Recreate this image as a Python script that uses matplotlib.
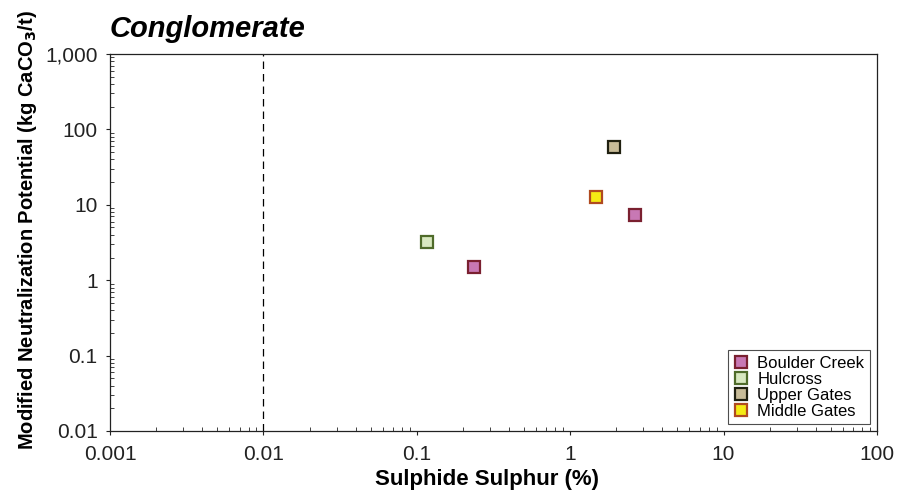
import matplotlib
matplotlib.use("Agg")
import matplotlib.pyplot as plt
from matplotlib.ticker import FixedLocator, LogLocator, NullFormatter

plt.rcParams["font.family"] = ["Liberation Sans", "DejaVu Sans"]

# data
series = ["Boulder Creek", "Hulcross", "Upper Gates", "Middle Gates"]
sulphide_s = {
    "Boulder Creek": [0.236, 2.64],
    "Hulcross": [0.117],
    "Upper Gates": [1.93],
    "Middle Gates": [1.47],
}
mod_np = {
    "Boulder Creek": [1.5, 7.3],
    "Hulcross": [3.2],
    "Upper Gates": [58.0],
    "Middle Gates": [12.7],
}
face_colors = {
    "Boulder Creek": "#C878B4",
    "Hulcross": "#D8E8C0",
    "Upper Gates": "#C8BC98",
    "Middle Gates": "#F5EB14",
}
edge_colors = {
    "Boulder Creek": "#7A2030",
    "Hulcross": "#4F6B2A",
    "Upper Gates": "#202010",
    "Middle Gates": "#B04A20",
}
x_ticks = [0.001, 0.01, 0.1, 1, 10, 100]
x_labels = ["0.001", "0.01", "0.1", "1", "10", "100"]
y_ticks = [0.01, 0.1, 1, 10, 100, 1000]
y_labels = ["0.01", "0.1", "1", "10", "100", "1,000"]
detection_limit = 0.01

fig = plt.figure(figsize=(8.98, 5.0), dpi=100)
ax = fig.add_axes([0.1225, 0.138, 0.854, 0.754])

for name in series:
    ax.plot(sulphide_s[name], mod_np[name], linestyle="none", marker="s",
            markersize=9, markerfacecolor=face_colors[name],
            markeredgecolor=edge_colors[name], markeredgewidth=1.6,
            label=name, zorder=3)

ax.axvline(detection_limit, color="black", linestyle=(0, (6, 4)), linewidth=0.9, zorder=1)

ax.set_xscale("log")
ax.set_yscale("log")
ax.set_xlim(0.001, 100)
ax.set_ylim(0.01, 1000)

ax.xaxis.set_major_locator(FixedLocator(x_ticks))
ax.set_xticklabels(x_labels)
ax.yaxis.set_major_locator(FixedLocator(y_ticks))
ax.set_yticklabels(y_labels)
ax.xaxis.set_minor_locator(LogLocator(base=10, subs=range(2, 10), numticks=20))
ax.yaxis.set_minor_locator(LogLocator(base=10, subs=range(2, 10), numticks=20))
ax.xaxis.set_minor_formatter(NullFormatter())
ax.yaxis.set_minor_formatter(NullFormatter())

ax.tick_params(axis="both", which="major", direction="out", length=3, width=0.8,
               labelsize=15, colors="#222222")
ax.tick_params(axis="x", which="major", pad=7)
ax.tick_params(axis="y", which="major", pad=6)
ax.tick_params(axis="both", which="minor", direction="in", length=3, width=0.6,
               colors="#222222")
for sp in ax.spines.values():
    sp.set_linewidth(0.9)
    sp.set_color("#222222")

ax.set_xlabel("Sulphide Sulphur (%)", fontsize=16, fontweight="bold", labelpad=8)
ax.xaxis.set_label_coords(0.492, -0.1, transform=ax.transAxes)
ax.set_ylabel(r"Modified Neutralization Potential (kg CaCO$_\mathbf{3}$/t)",
              fontsize=14.5, fontweight="bold")
ax.yaxis.set_label_coords(-0.093, 0.534, transform=ax.transAxes)
ax.xaxis.label.set_va("top")
fig.text(0.1225, 0.942, "Conglomerate", fontsize=21, fontweight="bold",
         fontstyle="italic", ha="left", va="center")

leg = ax.legend(loc="lower right", fontsize=12, frameon=True, fancybox=False,
                edgecolor="#222222", handlelength=0.8, handletextpad=0.6,
                borderpad=0.35, labelspacing=0.05, borderaxespad=0.4,
                markerscale=0.9)
leg.get_frame().set_linewidth(0.8)

fig.savefig("out.png", dpi=100)
